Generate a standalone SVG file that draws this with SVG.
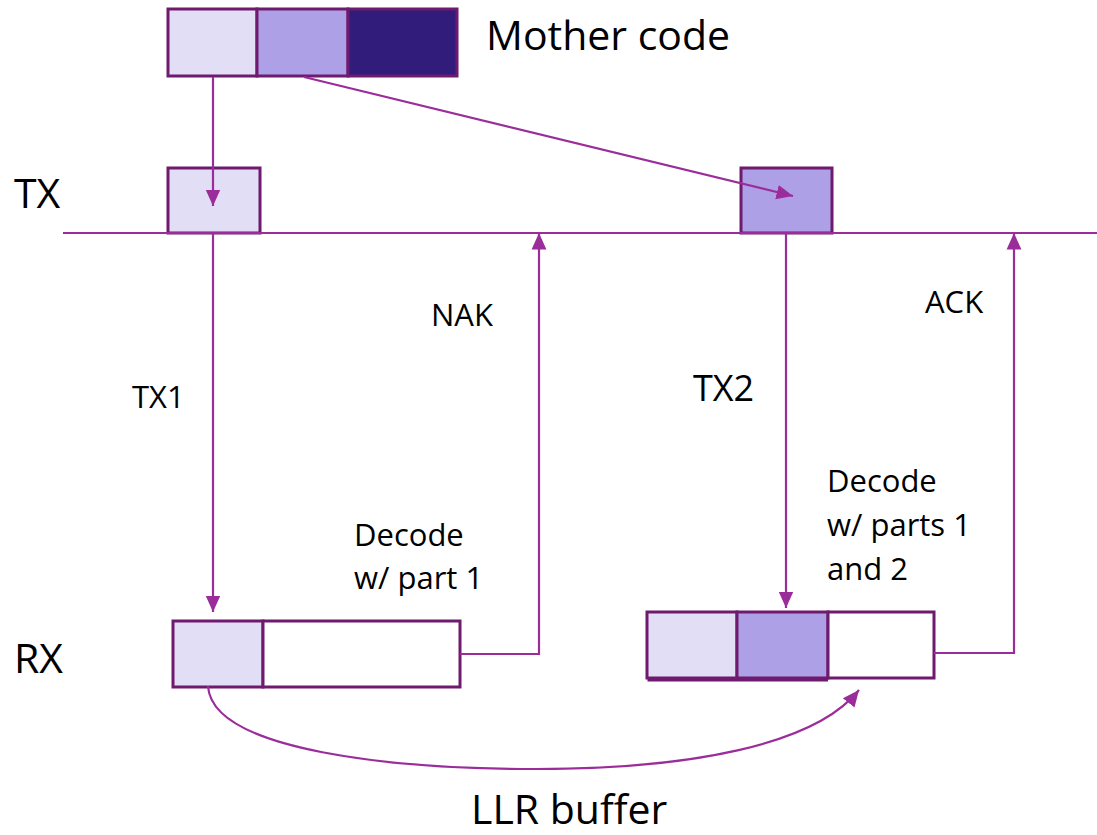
<svg xmlns="http://www.w3.org/2000/svg" width="1097" height="835" viewBox="0 0 1097 835">
<style>
.cell{stroke:#6E1A6E;stroke-width:3}
.c1{fill:#E2DEF5}
.c2{fill:#ADA0E6}
.c3{fill:#311C7C}
.c0{fill:#FFFFFF}
.ln{fill:none;stroke:#9B2D9B;stroke-width:2.2}
.t{font-family:"Open Sans","Liberation Sans",sans-serif;fill:#000}
.s{font-size:31px}
.b{font-size:41px}
</style>
<defs>
<marker id="ah" viewBox="0 0 10 10" refX="10" refY="5" markerWidth="7.5" markerHeight="7.5" orient="auto" markerUnits="strokeWidth">
<path d="M0,0.5 L10,5 L0,9.5 Z" fill="#9B2D9B"/>
</marker>
</defs>
<g id="mother-code">
<rect class="cell c1" x="168" y="9" width="89" height="67"/>
<rect class="cell c2" x="257" y="9" width="91" height="67"/>
<rect class="cell c3" x="348" y="9" width="109" height="67"/>
<text class="t b" x="486" y="50">Mother code</text>
</g>
<g id="tx-label"><text class="t b" x="14" y="208">TX</text></g>
<g id="rx-label"><text class="t b" x="14" y="673">RX</text></g>
<g id="tx-box1"><rect class="cell c1" x="168" y="168" width="92" height="65"/></g>
<g id="tx-box2"><rect class="cell c2" x="741" y="168" width="91" height="65"/></g>
<g id="rx-box1">
<rect class="cell c1" x="173" y="621" width="90" height="66"/>
<rect class="cell c0" x="263" y="621" width="197" height="66"/>
</g>
<g id="rx-box2">
<polyline fill="none" stroke="#6E1A6E" stroke-width="3" points="649,614 649,680 828,680"/>
<rect class="cell c1" x="647" y="612" width="90" height="66"/>
<rect class="cell c2" x="737" y="612" width="91" height="66"/>
<rect class="cell c0" x="828" y="612" width="106" height="66"/>
</g>
<g id="labels">
<text class="t s" x="132" y="408">TX1</text>
<text class="t s" x="431" y="326">NAK</text>
<text class="t" style="font-size:36px" x="693" y="401">TX2</text>
<text class="t s" x="925" y="313">ACK</text>
<text class="t s" x="354" y="546">Decode</text>
<text class="t s" x="354" y="589">w/ part 1</text>
<text class="t s" x="827" y="492">Decode</text>
<text class="t s" x="827" y="536">w/ parts 1</text>
<text class="t s" x="827" y="580">and 2</text>
<text class="t b" x="471" y="824">LLR buffer</text>
</g>
<g id="connectors">
<line class="ln" x1="63" y1="233" x2="1097" y2="233"/>
<line class="ln" x1="213" y1="77" x2="213" y2="206" marker-end="url(#ah)"/>
<line class="ln" x1="304" y1="77" x2="793" y2="196" marker-end="url(#ah)"/>
<line class="ln" x1="213" y1="234" x2="213" y2="612" marker-end="url(#ah)"/>
<line class="ln" x1="786" y1="234" x2="786" y2="608" marker-end="url(#ah)"/>
<polyline class="ln" points="460,654 539,654 539,233" marker-end="url(#ah)"/>
<polyline class="ln" points="934,653 1014,653 1014,233" marker-end="url(#ah)"/>
<path class="ln" d="M208,686 C212,752 400,769 535,769 C690,769 815,745 859,690" marker-end="url(#ah)"/>
</g>
</svg>
